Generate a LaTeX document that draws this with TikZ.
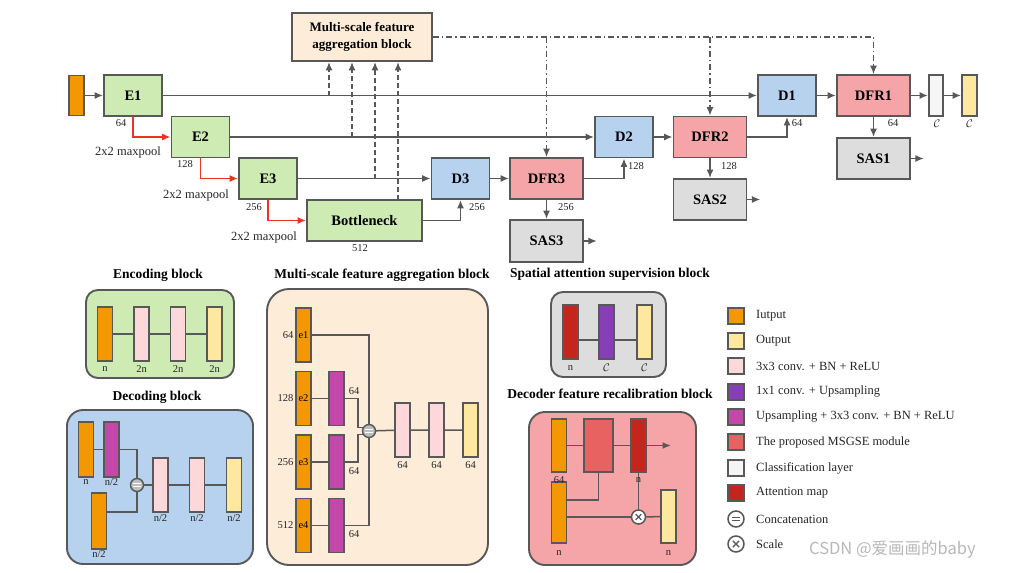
\documentclass[tikz,border=0pt]{standalone}
\usepackage{fontspec}
\setmainfont{Liberation Serif}
\newfontfamily\cjk{Noto Sans CJK SC}
\usetikzlibrary{arrows.meta,calc}
\definecolor{edgec}{RGB}{88,88,88}
\definecolor{cin}{RGB}{243,152,0}
\definecolor{cout}{RGB}{254,232,160}
\definecolor{cpink}{RGB}{252,216,218}
\definecolor{cpurple}{RGB}{135,62,183}
\definecolor{cmag}{RGB}{196,72,170}
\definecolor{cmsgse}{RGB}{232,98,98}
\definecolor{cwhite}{RGB}{245,245,245}
\definecolor{cattn}{RGB}{196,38,30}
\definecolor{cgreen}{RGB}{206,235,180}
\definecolor{cblue}{RGB}{182,210,238}
\definecolor{cdfr}{RGB}{245,165,168}
\definecolor{csas}{RGB}{222,221,222}
\definecolor{cmsfa}{RGB}{253,236,216}
\definecolor{cred}{RGB}{238,50,36}
\definecolor{ccatg}{RGB}{190,190,190}
\begin{document}
\begin{tikzpicture}[x=1pt,y=-1pt,
  ln/.style={draw=edgec, line width=1.5pt},
  arr/.style={draw=edgec, line width=1.6pt, -{Latex[length=8.5pt,width=7pt]}},
  redarr/.style={draw=cred, line width=1.6pt, -{Latex[length=8.5pt,width=7pt]}},
  dasharr/.style={arr, dash pattern=on 5pt off 3pt},
  ddarr/.style={arr, line width=1.4pt, dash pattern=on 6pt off 3pt on 1.5pt off 3pt},
  blk/.style={draw=edgec, line width=1.8pt, inner sep=0pt, minimum width=58pt, minimum height=41pt, font=\bfseries\fontsize{14.5}{16}\selectfont},
  encb/.style={blk, fill=cgreen},
  decb/.style={blk, fill=cblue},
  dfrb/.style={blk, fill=cdfr, minimum width=73pt},
  sasb/.style={blk, fill=csas, minimum width=73pt},
  num/.style={inner sep=0.5pt, font=\fontsize{10.5}{11}\selectfont, text=black!85},
  pool/.style={inner sep=0.5pt, font=\fontsize{12.5}{13}\selectfont, text=black!85},
  title/.style={inner sep=0pt, font=\bfseries\fontsize{13.5}{15}\selectfont},
  panel/.style={draw=edgec, line width=1.9pt, inner sep=0pt},
  bar/.style={draw=edgec, line width=1.5pt, inner sep=0pt, minimum width=15pt, minimum height=54pt},
  lab/.style={inner sep=0.5pt, font=\fontsize{10.5}{11}\selectfont, text=black!85},
  catg/.style={circle, draw=edgec, line width=1.4pt, fill=ccatg, inner sep=0pt, minimum size=#1,
    path picture={\draw[white, line width=1.3pt]
      ([xshift={-0.28*#1},yshift={0.12*#1}]path picture bounding box.center) -- ([xshift={0.28*#1},yshift={0.12*#1}]path picture bounding box.center)
      ([xshift={-0.28*#1},yshift={-0.12*#1}]path picture bounding box.center) -- ([xshift={0.28*#1},yshift={-0.12*#1}]path picture bounding box.center);}},
  catw/.style={circle, draw=edgec, line width=1.5pt, fill=white, inner sep=0pt, minimum size=#1,
    path picture={\draw[edgec, line width=1.3pt]
      ([xshift={-0.28*#1},yshift={0.11*#1}]path picture bounding box.center) -- ([xshift={0.28*#1},yshift={0.11*#1}]path picture bounding box.center)
      ([xshift={-0.28*#1},yshift={-0.11*#1}]path picture bounding box.center) -- ([xshift={0.28*#1},yshift={-0.11*#1}]path picture bounding box.center);}},
  scl/.style={circle, draw=edgec, line width=1.5pt, fill=white, inner sep=0pt, minimum size=#1,
    path picture={\draw[edgec, line width=1.3pt]
      ([xshift={-0.2*#1},yshift={-0.2*#1}]path picture bounding box.center) -- ([xshift={0.2*#1},yshift={0.2*#1}]path picture bounding box.center)
      ([xshift={-0.2*#1},yshift={0.2*#1}]path picture bounding box.center) -- ([xshift={0.2*#1},yshift={-0.2*#1}]path picture bounding box.center);}},
  legsq/.style={draw=edgec, line width=1.5pt, inner sep=0pt, minimum size=16pt},
  legtxt/.style={anchor=west, inner sep=0pt, font=\fontsize{12.5}{13}\selectfont, text=black!85}
]
\useasboundingbox[fill=white] (0,0) rectangle (1021,573);

% ---------------- top network ----------------
\node[blk, fill=cin, minimum width=15pt, minimum height=40pt] (in) at (76.5,95.5) {};
\node[encb] (E1) at (133,95.5) {E1};
\node[encb] (E2) at (200.5,137) {E2};
\node[encb] (E3) at (268,178.5) {E3};
\node[encb, minimum width=115pt] (BN) at (364.5,220.5) {Bottleneck};
\node[blk, fill=cmsfa, minimum width=140pt, minimum height=48pt, align=center, font=\bfseries\fontsize{13}{16.5}\selectfont] (MS) at (362,37) {Multi-scale feature\\aggregation block};
\node[decb] (D3) at (460.5,178.5) {D3};
\node[decb] (D2) at (624,137) {D2};
\node[decb] (D1) at (787,95.5) {D1};
\node[dfrb] (DFR3) at (546.5,178.5) {DFR3};
\node[dfrb] (DFR2) at (710,137) {DFR2};
\node[dfrb] (DFR1) at (873.5,95.5) {DFR1};
\node[sasb, minimum height=42pt] (SAS3) at (546.5,241) {SAS3};
\node[sasb] (SAS2) at (710,199.5) {SAS2};
\node[sasb] (SAS1) at (873.5,158.5) {SAS1};
\node[blk, fill=cwhite, minimum width=14pt] (cls) at (936,95.5) {};
\node[blk, fill=cout, minimum width=15pt] (outb) at (969.5,95.5) {};

\draw[arr] (in) -- (E1);
\draw[arr] (E1) -- (D1);
\draw[arr] (E2) -- (D2);
\draw[arr] (E3) -- (D3);
\draw[arr] (BN.east) -| (D3.south);
\draw[redarr] (E1.south) |- (E2.west);
\draw[redarr] (E2.south) |- (E3.west);
\draw[redarr] (E3.south) |- (BN.west);
\draw[arr] (D3) -- (DFR3);
\draw[arr] (DFR3.east) -| (D2.south);
\draw[arr] (D2) -- (DFR2);
\draw[arr] (DFR2.east) -| (D1.south);
\draw[arr] (D1) -- (DFR1);
\draw[arr] (DFR1) -- (cls);
\draw[arr] (cls) -- (outb);
\draw[arr] (DFR3) -- (SAS3);
\draw[arr] (DFR2) -- (SAS2);
\draw[arr] (DFR1) -- (SAS1);
\coordinate (o3) at ([xshift=13pt]SAS3.east);
\coordinate (o2) at ([xshift=13pt]SAS2.east);
\coordinate (o1) at ([xshift=13pt]SAS1.east);
\draw[arr] (SAS3.east) -- (o3);
\draw[arr] (SAS2.east) -- (o2);
\draw[arr] (SAS1.east) -- (o1);

\coordinate (t1) at (329,95.5);
\coordinate (t2) at (352,137);
\coordinate (t3) at (375,178.5);
\coordinate (t4) at (398,200);
\draw[dasharr] (t1) -- (t1 |- MS.south);
\draw[dasharr] (t2) -- (t2 |- MS.south);
\draw[dasharr] (t3) -- (t3 |- MS.south);
\draw[dasharr] (t4) -- (t4 |- MS.south);

\draw[ddarr] (MS.east) -| (DFR1.north);
\draw[ddarr] (MS.east -| DFR2.north) -- (DFR2.north);
\draw[ddarr] (MS.east -| DFR3.north) -- (DFR3.north);

\node[num] (n64a) at (121,123) {64};
\node[num] (n128a) at (185,164) {128};
\node[num] (n256a) at (254,207) {256};
\node[num] (n512) at (360,248) {512};
\node[pool] (mp1) at (128,152) {2x2 maxpool};
\node[pool] (mp2) at (196,195) {2x2 maxpool};
\node[pool] (mp3) at (264,237) {2x2 maxpool};
\node[num] (n256b) at (477,207) {256};
\node[num] (n256c) at (566,207) {256};
\node[num] (n128b) at (636,166) {128};
\node[num] (n128c) at (729,166) {128};
\node[num] (n64b) at (797,123) {64};
\node[num] (n64c) at (893,123) {64};
\node[num] (cc1) at (937,124) {$\mathcal{C}$};
\node[num] (cc2) at (969.5,124) {$\mathcal{C}$};

% ---------------- Encoding block ----------------
\node[title] (tenc) at (158,275) {Encoding block};
\node[panel, rounded corners=12pt, fill=cgreen, minimum width=148pt, minimum height=88pt] (encbox) at (160,334) {};
\node[bar, fill=cin] (en1) at (105,334) {};
\node[bar, fill=cpink] (en2) at (141.5,334) {};
\node[bar, fill=cpink] (en3) at (178,334) {};
\node[bar, fill=cout] (en4) at (214.5,334) {};
\draw[ln] (en1) -- (en2) -- (en3) -- (en4);
\node[lab] (enl1) at (105,369) {n};
\node[lab] (enl2) at (141.5,369) {2n};
\node[lab] (enl3) at (178,369) {2n};
\node[lab] (enl4) at (214.5,369) {2n};

% ---------------- Decoding block ----------------
\node[title] (tdec) at (157,397) {Decoding block};
\node[panel, rounded corners=16pt, fill=cblue, minimum width=186pt, minimum height=154pt] (decbox) at (160,487) {};
\node[bar, fill=cin, minimum height=55pt] (de1) at (86,449.5) {};
\node[bar, fill=cmag, minimum height=55pt] (de2) at (111.5,449.5) {};
\node[bar, fill=cin, minimum height=56pt] (de3) at (99,521) {};
\node[catg=13pt] (dcat) at (137,485) {};
\node[bar, fill=cpink] (de4) at (160.5,485) {};
\node[bar, fill=cpink] (de5) at (197,485) {};
\node[bar, fill=cout] (de6) at (234,485) {};
\draw[ln] (de1) -- (de2);
\draw[ln] (de2.east) -| (dcat.north);
\draw[ln] ([yshift=9pt]de3.east) -| (dcat.south);
\draw[ln] (dcat) -- (de4) -- (de5) -- (de6);
\node[lab] (dl1) at (86,482) {n};
\node[lab] (dl2) at (111.5,482) {n/2};
\node[lab] (dl3) at (99,554) {n/2};
\node[lab] (dl4) at (160.5,518) {n/2};
\node[lab] (dl5) at (197,518) {n/2};
\node[lab] (dl6) at (234,518) {n/2};

% ---------------- MSFA block ----------------
\node[title] (tms) at (382,275) {Multi-scale feature aggregation block};
\node[panel, rounded corners=22pt, fill=cmsfa, minimum width=221pt, minimum height=276pt] (msbox) at (377.5,427) {};
\node[bar, fill=cin, font=\fontsize{10.5}{11}\selectfont] (me1) at (303.5,335) {e1};
\node[bar, fill=cin, font=\fontsize{10.5}{11}\selectfont] (me2) at (303.5,398.5) {e2};
\node[bar, fill=cin, font=\fontsize{10.5}{11}\selectfont] (me3) at (303.5,462) {e3};
\node[bar, fill=cin, font=\fontsize{10.5}{11}\selectfont] (me4) at (303.5,525.5) {e4};
\node[bar, fill=cmag] (mm2) at (336.5,398.5) {};
\node[bar, fill=cmag] (mm3) at (336.5,462) {};
\node[bar, fill=cmag] (mm4) at (336.5,525.5) {};
\node[catg=13pt] (mcat) at (369,431) {};
\node[bar, fill=cpink] (mp1b) at (402.5,430) {};
\node[bar, fill=cpink] (mp2b) at (436.5,430) {};
\node[bar, fill=cout] (mp3b) at (470.5,430) {};
\draw[ln] (me1.east) -| (mcat.north);
\draw[ln] (me2) -- (mm2);
\draw[ln] (me3) -- (mm3);
\draw[ln] (me4) -- (mm4);
\draw[ln] (mm2.east) -- ++(13,0) |- (mcat.150);
\draw[ln] (mm3.east) -- ++(13,0) |- (mcat.210);
\draw[ln] (mm4.east) -| (mcat.south);
\draw[ln] (mcat) -- (mp1b) -- (mp2b) -- (mp3b);
\node[lab, anchor=east] (ml1) at (294,335) {64};
\node[lab, anchor=east] (ml2) at (294,398.5) {128};
\node[lab, anchor=east] (ml3) at (294,462) {256};
\node[lab, anchor=east] (ml4) at (294,525.5) {512};
\node[lab] (ml5) at (354,391) {64};
\node[lab] (ml6) at (354,471) {64};
\node[lab] (ml7) at (354,534) {64};
\node[lab] (ml8) at (402.5,465) {64};
\node[lab] (ml9) at (436.5,465) {64};
\node[lab] (ml10) at (470.5,465) {64};

% ---------------- SAS block ----------------
\node[title] (tsas) at (610,274) {Spatial attention supervision block};
\node[panel, rounded corners=12pt, fill=csas, minimum width=115pt, minimum height=85pt] (sasbox) at (608.5,334.5) {};
\node[bar, fill=cattn] (sr) at (570.5,332) {};
\node[bar, fill=cpurple] (sp) at (606.5,332) {};
\node[bar, fill=cout] (sy) at (644.5,332) {};
\draw[ln] ([yshift=-8pt]sr.east) -- ([yshift=-8pt]sp.west);
\draw[ln] ([yshift=-8pt]sp.east) -- ([yshift=-8pt]sy.west);
\node[lab] (sl1) at (570.5,368) {n};
\node[lab] (sl2) at (606.5,368) {$\mathcal{C}$};
\node[lab] (sl3) at (644.5,368) {$\mathcal{C}$};

% ---------------- DFR block ----------------
\node[title] (tdfr) at (610,394) {Decoder feature recalibration block};
\node[panel, rounded corners=16pt, fill=cdfr, minimum width=167pt, minimum height=153pt] (dfrbox) at (612.5,488.5) {};
\node[bar, fill=cin, minimum height=53pt] (fo1) at (559,445.5) {};
\node[bar, fill=cmsgse, minimum width=29pt, minimum height=53pt] (fm) at (598.5,445.5) {};
\node[bar, fill=cattn, minimum height=53pt] (fr) at (638.5,445.5) {};
\node[bar, fill=cin, minimum height=61pt] (fo2) at (559,512.5) {};
\node[scl=14pt] (fsc) at (638.5,517) {};
\node[bar, fill=cout, minimum height=53pt] (fy) at (668.5,516.5) {};
\coordinate (fout) at (671,445.5);
\draw[ln] (fo1) -- (fm);
\draw[ln] (fm) -- (fr);
\draw[arr, line width=1.5pt] (fr.east) -- (fout);
\draw[ln] (fm.south) |- ([yshift=12.5pt]fo2.east);
\draw[ln] ([yshift=-4.5pt]fo2.east) -- (fsc.west);
\draw[ln] (fr.south) -- (fsc.north);
\draw[ln] (fsc) -- (fy);
\node[lab] (fl1) at (559,480) {64};
\node[lab] (fl2) at (638.5,480) {n};
\node[lab] (fl3) at (559,553) {n};
\node[lab] (fl4) at (668.5,553) {n};

% ---------------- Legend ----------------
\node[legsq, fill=cin] (L1) at (736,316) {};
\node[legsq, fill=cout] (L2) at (736,341) {};
\node[legsq, fill=cpink] (L3) at (736,366) {};
\node[legsq, fill=cpurple] (L4) at (736,392) {};
\node[legsq, fill=cmag] (L5) at (736,417) {};
\node[legsq, fill=cmsgse] (L6) at (736,442) {};
\node[legsq, fill=cwhite] (L7) at (736,468) {};
\node[legsq, fill=cattn] (L8) at (736,493) {};
\node[catw=16pt] (L9) at (736,519) {};
\node[scl=16pt] (L10) at (736,544) {};
\node[legtxt] (LT1) at (756,316) {Iutput};
\node[legtxt] (LT2) at (756,341) {Output};
\node[legtxt] (LT3) at (756,366) {3x3 conv. + BN + ReLU};
\node[legtxt] (LT4) at (756,392) {1x1 conv. + Upsampling};
\node[legtxt] (LT5) at (756,417) {Upsampling + 3x3 conv. + BN + ReLU};
\node[legtxt] (LT6) at (756,442) {The proposed MSGSE module};
\node[legtxt] (LT7) at (756,468) {Classification layer};
\node[legtxt] (LT8) at (756,493) {Attention map};
\node[legtxt] (LT9) at (756,519) {Concatenation};
\node[legtxt] (LT10) at (756,544) {Scale};

\node[anchor=west, inner sep=0pt, text=black!28, font=\cjk\fontsize{16.5}{17}\selectfont] (wm) at (809,549) {CSDN @爱画画的baby};
\end{tikzpicture}
\end{document}
